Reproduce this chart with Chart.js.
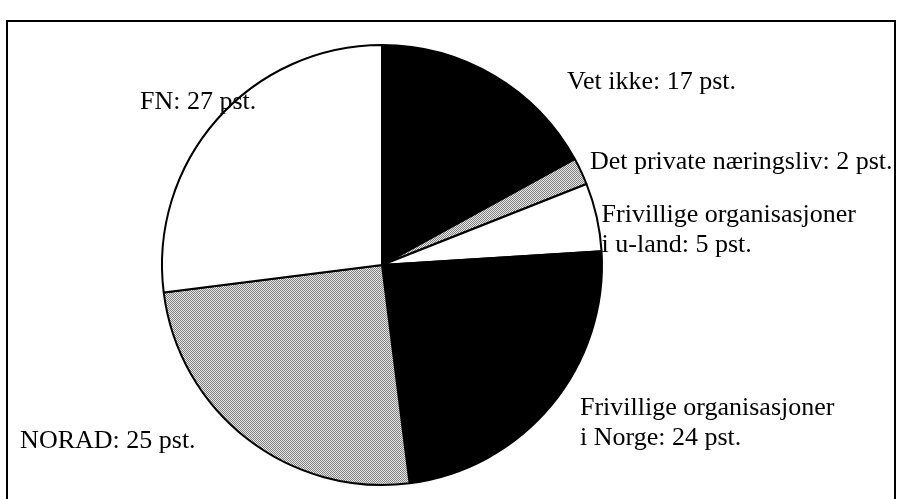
<!DOCTYPE html>
<html>
<head>
<meta charset="utf-8">
<script src="https://cdn.jsdelivr.net/npm/chart.js@4/dist/chart.umd.min.js"></script>
<style>
  html, body { margin: 0; padding: 0; background: #ffffff; }
  #wrap { width: 902px; height: 499px; position: relative; }
</style>
</head>
<body>
<div id="wrap"><canvas id="c" width="902" height="499"></canvas></div>
<script>
// ---- data ----
const categories = ["Vet ikke", "Det private næringsliv", "Frivillige organisasjoner i u-land", "Frivillige organisasjoner i Norge", "NORAD", "FN"];
const values = [17, 2, 5, 24, 25, 27];
const labelLines = [
  ["Vet ikke: 17 pst."],
  ["Det private næringsliv: 2 pst."],
  ["Frivillige organisasjoner", "i u-land: 5 pst."],
  ["Frivillige organisasjoner", "i Norge: 24 pst."],
  ["NORAD: 25 pst."],
  ["FN: 27 pst."]
];

// ---- layout (label anchors in units of pie radius, relative to pie centre) ----
const labelLayout = [
  { dx: 0.841, dy: -0.832 },
  { dx: 0.945, dy: -0.468 },
  { dx: 0.998, dy: -0.227 },
  { dx: 0.900, dy: 0.650 },
  { dx: -1.645, dy: 0.800 },
  { dx: -1.100, dy: -0.741 }
];

function makeStipple() {
  const p = document.createElement('canvas');
  p.width = 2; p.height = 2;
  const g = p.getContext('2d');
  g.fillStyle = '#e8e8e8'; g.fillRect(0, 0, 2, 2);
  g.fillStyle = '#808080'; g.fillRect(0, 0, 1, 1); g.fillRect(1, 1, 1, 1);
  return g.createPattern(p, 'repeat');
}
const stipple = makeStipple();
const fills = ['#000000', stipple, '#ffffff', '#000000', stipple, '#ffffff'];

const framePlugin = {
  id: 'frame',
  beforeDraw(chart) {
    const ctx = chart.ctx;
    ctx.save();
    ctx.fillStyle = '#ffffff';
    ctx.fillRect(0, 0, chart.width, chart.height);
    ctx.strokeStyle = '#000000';
    ctx.lineWidth = 2;
    ctx.beginPath();
    ctx.moveTo(7, chart.height + 5);
    ctx.lineTo(7, 21);
    ctx.lineTo(895, 21);
    ctx.lineTo(895, chart.height + 5);
    ctx.stroke();
    ctx.restore();
  }
};

const labelPlugin = {
  id: 'sliceLabels',
  afterDraw(chart) {
    const meta = chart.getDatasetMeta(0);
    const arc = meta.data[0];
    const cx = arc.x, cy = arc.y, r = arc.outerRadius;
    const ctx = chart.ctx;
    ctx.save();
    ctx.fillStyle = '#000000';
    ctx.font = '26px "Liberation Serif", "DejaVu Serif", serif';
    ctx.textAlign = 'left';
    ctx.textBaseline = 'middle';
    labelLines.forEach((lines, i) => {
      const L = labelLayout[i];
      const x = cx + L.dx * r;
      const y = cy + L.dy * r;
      lines.forEach((t, j) => ctx.fillText(t, x, y + j * 30));
    });
    ctx.restore();
  }
};

new Chart(document.getElementById('c'), {
  type: 'pie',
  data: {
    labels: categories,
    datasets: [{
      data: values,
      backgroundColor: fills,
      borderColor: '#000000',
      borderWidth: 2,
      hoverOffset: 0
    }]
  },
  options: {
    responsive: false,
    animation: false,
    devicePixelRatio: 1,
    layout: { padding: { left: 161, right: 299, top: 44, bottom: 13 } },
    plugins: {
      legend: { display: false },
      tooltip: { enabled: false },
      title: { display: false }
    },
    events: []
  },
  plugins: [framePlugin, labelPlugin]
});
</script>
</body>
</html>
